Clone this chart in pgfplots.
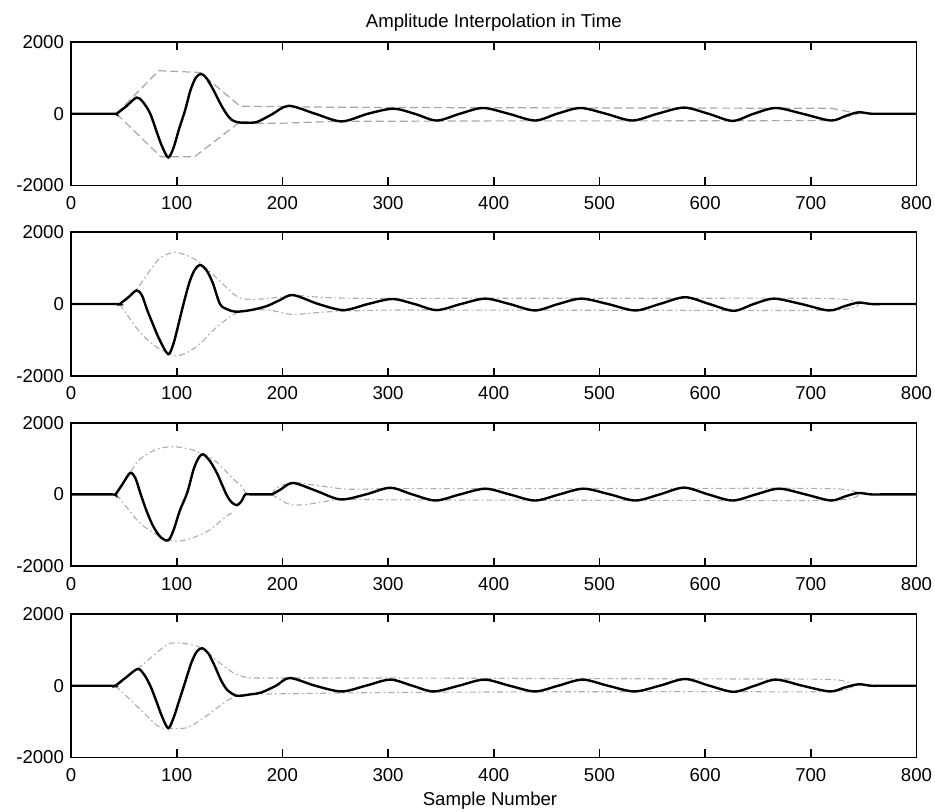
\documentclass[border=0pt]{standalone}
\usepackage{fontspec}
\setmainfont{Liberation Sans}
\usepackage{pgfplots}
\pgfplotsset{compat=1.18}
\pgfplotsset{
  panel/.style={
    scale only axis, width=422.75pt, height=71.7pt,
    xmin=0, xmax=800, ymin=-2000, ymax=2000,
    xtick={0,100,...,800}, ytick={-2000,0,2000},
    tick align=inside, tick pos=both,
    xticklabel pos=lower, yticklabel pos=left,
    major tick length=4pt,
    axis line style={line width=0.85pt},
    every tick/.style={black, line width=0.85pt},
    tick label style={font=\fontsize{9.3}{11}\selectfont},
    xticklabel style={yshift=-2pt},
    /pgf/number format/assume math mode=true,
    /pgf/number format/set thousands separator={},
    scaled y ticks=false,
    clip=true,
  },
  wave/.style={black, line width=1.2pt, smooth, tension=0.5},
  envA/.style={gray!70, line width=0.6pt, dash pattern=on 4pt off 2pt},
  envB/.style={gray!65, line width=0.55pt, smooth, tension=0.5, dash pattern=on 3pt off 1.5pt on 0.8pt off 1.5pt},
}
\begin{document}
\begin{tikzpicture}
\path[use as bounding box] (0,0) rectangle (467.5pt,-405.5pt);

% ---------------- Panel 1 ----------------
\begin{axis}[panel, at={(35.5pt,-21pt)}, anchor=north west]
\addplot[envA] coordinates {(43,0) (83,1200) (122,1150) (160,210) (250,180) (400,165) (550,160) (720,150) (745,0)};
\addplot[envA] coordinates {(43,0) (85,-1200) (117,-1200) (158,-270) (200,-265) (250,-215) (400,-200) (550,-200) (720,-190) (745,0)};
\addplot[wave] coordinates {(0,0) (40,0) (43,0) (52,200) (62,450) (68,330) (75,0) (81,-500) (86,-900) (92,-1220) (97,-950) (102,-450) (108,100) (113,650) (118,1000) (123,1110) (128,1000) (135,650) (141,300) (147,0) (152,-170) (158,-240) (166,-250) (176,-230)
 (190,-20) (206,220) (231,0) (256,-215) (281,0) (305,140) (325,0) (346,-190) (368,0) (390,160) (414,0) (439,-190) (460,0) (482,160) (506,0) (531,-190) (555,0) (580,170) (603,0) (626,-200) (646,0) (667,160) (692,0) (719,-190) (733,-60) (745,40) (757,0) (770,0) (800,0)};
\end{axis}

% ---------------- Panel 2 ----------------
\begin{axis}[panel, at={(35.5pt,-116.15pt)}, anchor=north west]
\addplot[envB] coordinates {(46,0) (55,200) (62,400) (75,950) (85,1300) (98,1440) (110,1350) (122,1150) (138,720) (153,300) (163,140) (180,140) (200,200) (212,250) (230,200) (270,160) (400,160) (550,160) (720,150) (745,0)};
\addplot[envB] coordinates {(46,0) (65,-780) (81,-1200) (98,-1440) (110,-1350) (122,-1110) (138,-640) (153,-310) (160,-215) (175,-160) (190,-180) (210,-290) (245,-215) (300,-170) (400,-170) (550,-175) (720,-170) (745,0)};
\addplot[wave] coordinates {(0,0) (43,0) (46,0) (54,180) (62,380) (67,250) (72,-160) (78,-600) (84,-1010) (92,-1400) (97,-1100) (101,-650) (106,-50) (112,600) (117,950) (122,1090) (128,950) (134,600) (141,0) (148,-150) (156,-215) (170,-170) (185,-60)
 (197,100) (210,250) (234,0) (258,-170) (281,0) (304,140) (325,0) (346,-170) (369,0) (392,150) (415,0) (439,-180) (461,0) (483,150) (508,0) (534,-180) (557,0) (581,190) (604,0) (627,-190) (646,0) (665,150) (691,0) (717,-180) (732,-60) (745,40) (757,0) (770,0) (800,0)};
\end{axis}

% ---------------- Panel 3 ----------------
\begin{axis}[panel, at={(35.5pt,-211.35pt)}, anchor=north west]
\addplot[envB] coordinates {(43,0) (56,600) (65,980) (81,1260) (97,1330) (113,1260) (125,1120) (138,900) (153,450) (162,200) (166,0)};
\addplot[envB] coordinates {(190,0) (195,190) (210,330) (226,280) (260,150) (300,160) (400,160) (550,165) (720,160) (745,0)};
\addplot[envB] coordinates {(43,0) (52,-330) (65,-790) (81,-1120) (97,-1300) (110,-1260) (129,-1030) (147,-610) (152,-520)};
\addplot[envB] coordinates {(190,0) (195,-90) (207,-280) (223,-280) (255,-140) (300,-150) (400,-160) (550,-165) (720,-160) (745,0)};
\addplot[wave] coordinates {(0,0) (39,0) (42,0) (49,300) (56,600) (61,450) (66,0) (72,-500) (78,-900) (85,-1200) (92,-1280) (97,-1000) (103,-450) (110,50) (116,700) (121,1030) (125,1120) (131,950) (138,600) (147,0) (152,-220) (157,-300) (161,-200) (165,0) (170,0) (185,0) (190,0)
 (198,130) (210,320) (232,100) (255,-140) (279,0) (302,185) (323,0) (345,-170) (368,0) (392,160) (415,0) (439,-170) (462,0) (485,160) (510,0) (534,-170) (557,0) (580,190) (603,0) (626,-170) (648,0) (670,160) (695,0) (719,-170) (733,-50) (745,40) (757,0) (770,0) (800,0)};
\end{axis}

% ---------------- Panel 4 ----------------
\begin{axis}[panel, at={(35.5pt,-307pt)}, anchor=north west]
\addplot[envB] coordinates {(42,0) (63,470) (80,890) (90,1130) (97,1195) (110,1167) (124,1045) (138,700) (153,370) (166,233) (185,215) (300,215) (450,200) (600,190) (720,170) (740,0)};
\addplot[envB] coordinates {(42,0) (62,-560) (82,-1120) (92,-1185) (110,-1167) (126,-887) (141,-560) (157,-280) (185,-233) (300,-190) (450,-170) (600,-165) (720,-160) (740,0)};
\addplot[wave] coordinates {(0,0) (39,0) (42,0) (52,230) (63,467) (69,320) (75,0) (81,-450) (86,-850) (92,-1185) (97,-900) (102,-450) (108,100) (114,650) (119,950) (124,1045) (130,900) (136,550) (142,150) (148,-120) (157,-280) (170,-240) (180,-190) (194,0)
 (207,215) (231,0) (256,-160) (279,0) (302,170) (323,0) (343,-160) (367,0) (391,170) (415,0) (439,-160) (461,0) (484,170) (508,0) (533,-160) (557,0) (581,187) (604,0) (627,-170) (647,0) (667,170) (692,0) (718,-160) (732,-50) (745,40) (757,0) (770,0) (800,0)};
\end{axis}

\node[anchor=base, font=\fontsize{9.3}{11}\selectfont] at (246.9pt,-13.65pt) {Amplitude Interpolation in Time};
\node[anchor=base, font=\fontsize{9.3}{11}\selectfont] at (245pt,-402.5pt) {Sample Number};
\end{tikzpicture}
\end{document}
